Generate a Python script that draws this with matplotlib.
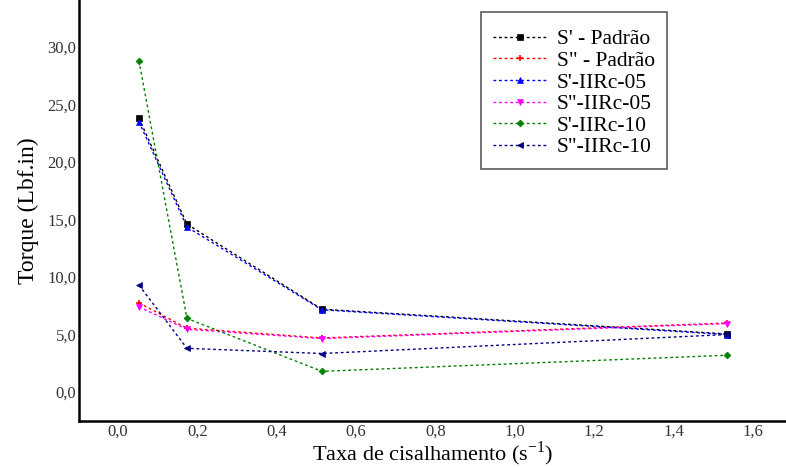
import matplotlib
matplotlib.use('Agg')
import matplotlib.pyplot as plt
from matplotlib.ticker import FuncFormatter

plt.rcParams.update({
    'font.family': ['Liberation Serif', 'DejaVu Serif'],
    'font.size': 10,
    'figure.facecolor': 'white',
    'axes.facecolor': 'white',
})

# --- Data ---
shear = [0.053, 0.174, 0.514, 1.535]

s1_padrao = [23.8, 14.6, 7.2, 5.05]
s2_padrao = [7.75, 5.55, 4.7, 6.0]
s1_iirc05 = [23.5, 14.35, 7.15, 5.0]
s2_iirc05 = [7.4, 5.45, 4.65, 5.95]
s1_iirc10 = [28.8, 6.4, 1.8, 3.2]
s2_iirc10 = [9.3, 3.8, 3.35, 5.0]

series = [
    ("S' - Padrão", s1_padrao, 'black', 's'),
    ('S" - Padrão', s2_padrao, 'red', '+'),
    ("S'-IIRc-05", s1_iirc05, 'blue', '^'),
    ('S"-IIRc-05', s2_iirc05, 'magenta', 'v'),
    ("S'-IIRc-10", s1_iirc10, 'green', 'D'),
    ('S"-IIRc-10', s2_iirc10, 'navy', '<'),
]

fig = plt.figure(figsize=(7.86, 4.68), dpi=100)
ax = fig.add_axes([0.1005, 0.1004, 0.8995, 0.8996])

for label, vals, color, mk in series:
    ax.plot(shear, vals, color=color, linestyle=(0, (2, 2)), linewidth=1.0,
            marker=mk, markersize=4.5 if mk != 'D' else 3.5,
            markeredgewidth=1.2 if mk == '+' else 0.5, label=label)

ax.set_xlim(-0.098, 1.683)
ax.set_ylim(-2.52, 34.09)
ax.set_xticks([0.0, 0.2, 0.4, 0.6, 0.8, 1.0, 1.2, 1.4, 1.6])
ax.set_yticks([0, 5, 10, 15, 20, 25, 30])
fmt = FuncFormatter(lambda v, p: f'{v:.1f}'.replace('.', ','))
ax.xaxis.set_major_formatter(fmt)
ax.yaxis.set_major_formatter(fmt)
ax.tick_params(length=0, labelsize=12, colors='#333333', pad=2)
for s in ['top', 'right']:
    ax.spines[s].set_visible(False)
for s in ['left', 'bottom']:
    ax.spines[s].set_linewidth(1.8)

ax.set_xlabel('Taxa de cisalhamento (s$^{\\mathregular{-1}}$)', fontsize=16, labelpad=0)
ax.set_ylabel('Torque (Lbf.in)', fontsize=17, labelpad=6)

leg = ax.legend(loc='upper left', bbox_to_anchor=(0.569, 0.9715), fontsize=15.5,
                handlelength=2.5, handletextpad=0.45, labelspacing=0.07,
                frameon=True, fancybox=False, edgecolor='#333333',
                title=' ', title_fontsize=3, borderpad=0.55, borderaxespad=0)
leg.get_frame().set_linewidth(1.2)

fig.savefig('out.png', dpi=100)
plt.close()
